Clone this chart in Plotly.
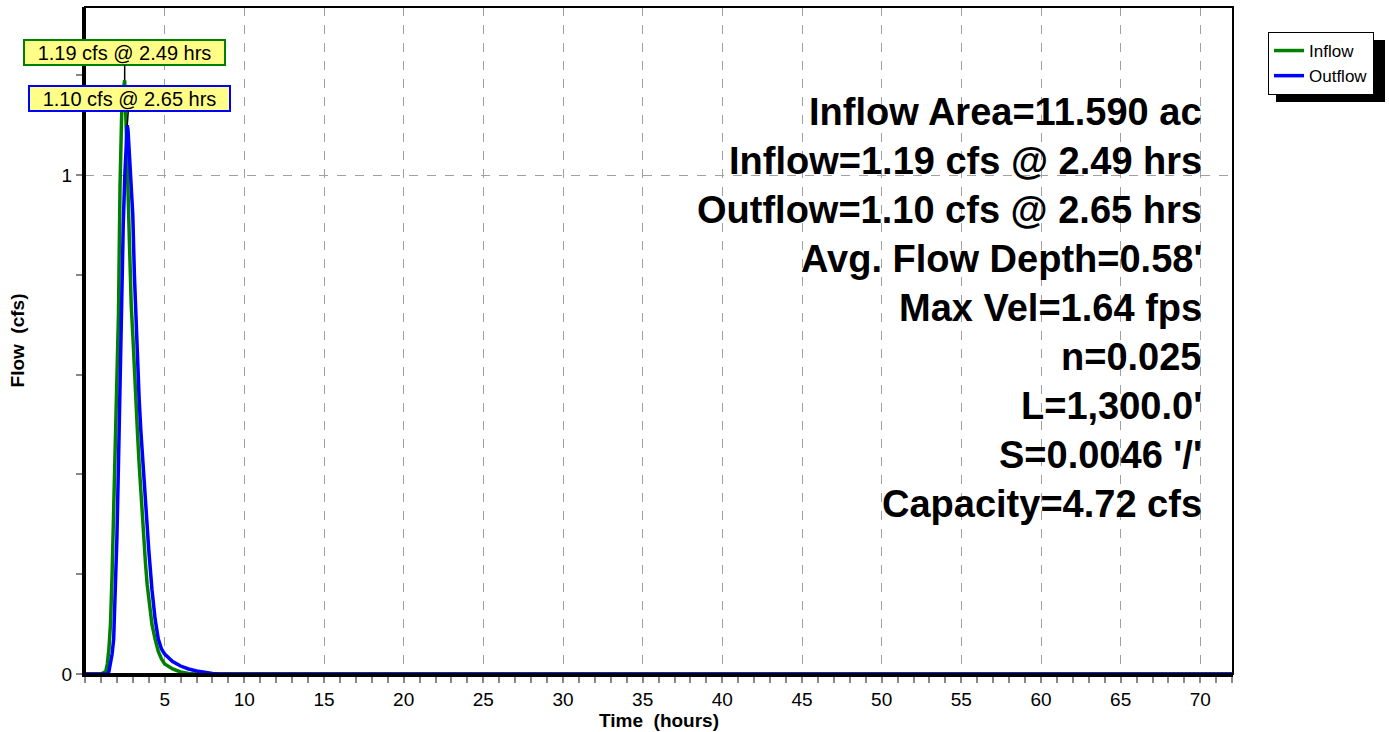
import plotly.graph_objects as go

# ---- data ----
inflow_t = [0.0, 1.0, 1.3, 1.4, 1.5, 1.6, 1.7, 1.8, 1.9, 2.0, 2.1, 2.2, 2.3, 2.4, 2.49,
            2.6, 2.7, 2.8, 2.9, 3.0, 3.1, 3.2, 3.3, 3.4, 3.5, 3.6, 3.7, 3.8, 3.9, 4.0,
            4.2, 4.4, 4.6, 4.8, 5.0, 5.5, 6.0, 6.5, 7.0, 72.0]
inflow_q = [0.0, 0.0, 0.005, 0.02, 0.05, 0.10, 0.20, 0.32, 0.48, 0.56, 0.72, 0.98, 1.12, 1.17, 1.19,
            1.08, 0.95, 0.82, 0.74, 0.68, 0.60, 0.53, 0.48, 0.42, 0.37, 0.30, 0.26, 0.22, 0.18, 0.15,
            0.10, 0.07, 0.045, 0.03, 0.02, 0.01, 0.004, 0.001, 0.0, 0.0]

outflow_t = [0.0, 1.4, 1.5, 1.6, 1.7, 1.8, 1.9, 2.0, 2.1, 2.2, 2.3, 2.4, 2.5, 2.6, 2.65,
             2.7, 2.8, 2.9, 3.0, 3.1, 3.2, 3.3, 3.4, 3.5, 3.6, 3.7, 3.8, 3.9, 4.0,
             4.2, 4.4, 4.6, 4.8, 5.0, 5.5, 6.0, 6.5, 7.0, 7.5, 8.0, 8.5, 72.0]
outflow_q = [0.0, 0.0, 0.005, 0.02, 0.04, 0.07, 0.15, 0.27, 0.42, 0.60, 0.76, 0.90, 1.00, 1.08, 1.10,
             1.09, 1.04, 0.99, 0.92, 0.80, 0.72, 0.60, 0.55, 0.49, 0.44, 0.40, 0.33, 0.28, 0.25,
             0.17, 0.11, 0.07, 0.05, 0.04, 0.025, 0.016, 0.01, 0.006, 0.003, 0.001, 0.0, 0.0]

peak_labels = [(2.49, 1.19, "1.19 cfs @ 2.49 hrs", "green", 0, -28),
               (2.65, 1.10, "1.10 cfs @ 2.65 hrs", "blue", 2, -27)]

summary_lines = ["Inflow Area=11.590 ac",
                 "Inflow=1.19 cfs @ 2.49 hrs",
                 "Outflow=1.10 cfs @ 2.65 hrs",
                 "Avg. Flow Depth=0.58'",
                 "Max Vel=1.64 fps",
                 "n=0.025",
                 "L=1,300.0'",
                 "S=0.0046 '/'",
                 "Capacity=4.72 cfs"]

x_ticks = list(range(5, 75, 5))
y_ticks = [0, 1]

FONT = "Arial, Liberation Sans, sans-serif"

fig = go.Figure()
fig.add_trace(go.Scatter(x=inflow_t, y=inflow_q, mode="lines", name="Inflow",
                         line=dict(color="green", width=3.5)))
fig.add_trace(go.Scatter(x=outflow_t, y=outflow_q, mode="lines", name="Outflow",
                         line=dict(color="blue", width=3.5)))

# plot geometry
L, R, T, B = 85, 156, 7, 58
W, H = 1389, 732
pw = W - L - R
ph = H - T - B

for i, txt in enumerate(summary_lines):
    ypix = 112 + 49 * i
    fig.add_annotation(x=(1204 - L) / pw, y=(H - B - ypix) / ph, xref="paper", yref="paper",
                       text="<b>%s</b>" % txt, showarrow=False, xanchor="right", yanchor="middle",
                       font=dict(family=FONT, size=38, color="black"))

for (px, py, txt, col, ax, ay) in peak_labels:
    fig.add_annotation(x=px, y=py, xref="x", yref="y", text=txt, showarrow=True,
                       arrowhead=0, arrowwidth=1.5, arrowcolor="black", ax=ax, ay=ay,
                       bgcolor="#ffff88", bordercolor=col, borderwidth=2, borderpad=0,
                       width=199, height=23,
                       font=dict(family=FONT, size=20, color="black"))

# legend shadow
fig.add_shape(type="rect", xref="paper", yref="paper",
              x0=(1276 - L) / pw, x1=(1385 - L) / pw,
              y0=(H - B - 102) / ph, y1=(H - B - 40) / ph,
              fillcolor="black", line=dict(width=0), layer="below")
# frame
fig.add_shape(type="rect", xref="paper", yref="paper", x0=0, x1=1, y0=0, y1=1,
              line=dict(color="black", width=2), layer="above")

fig.update_layout(
    width=W, height=H,
    margin=dict(l=L, r=R, t=T, b=B),
    paper_bgcolor="white", plot_bgcolor="white",
    font=dict(family=FONT, size=19, color="black"),
    showlegend=True,
    legend=dict(x=(1268 - L) / pw, y=(H - B - 32) / ph, xanchor="left", yanchor="top",
                bgcolor="white", bordercolor="black", borderwidth=1,
                font=dict(family=FONT, size=17), tracegroupgap=0, itemwidth=30),
    xaxis=dict(range=[0, 72.05], tickvals=x_ticks, ticktext=[str(v) for v in x_ticks],
               showgrid=True, gridcolor="#a0a0a0", griddash="dash", gridwidth=1,
               ticks="outside", ticklen=6, tickcolor="#888888", tickwidth=2,
               minor=dict(dtick=1, ticks="outside", ticklen=6, tickcolor="#888888", tickwidth=2, showgrid=False),
               showline=True, linecolor="black", linewidth=3, zeroline=False,
               title=dict(text="<b>Time  (hours)</b>", font=dict(size=19), standoff=2),
               tickfont=dict(size=19)),
    yaxis=dict(range=[0, 1.337], tickvals=y_ticks, ticktext=["0", "1"],
               showgrid=True, gridcolor="#a0a0a0", griddash="dash", gridwidth=1,
               ticks="outside", ticklen=6, tickcolor="#888888", tickwidth=2,
               minor=dict(dtick=0.2, ticks="outside", ticklen=6, tickcolor="#888888", tickwidth=2, showgrid=False),
               showline=True, linecolor="black", linewidth=3, zeroline=False,
               title=dict(text="<b>Flow  (cfs)</b>", font=dict(size=19), standoff=32),
               tickfont=dict(size=19)),
)

fig.write_html("out.html")
